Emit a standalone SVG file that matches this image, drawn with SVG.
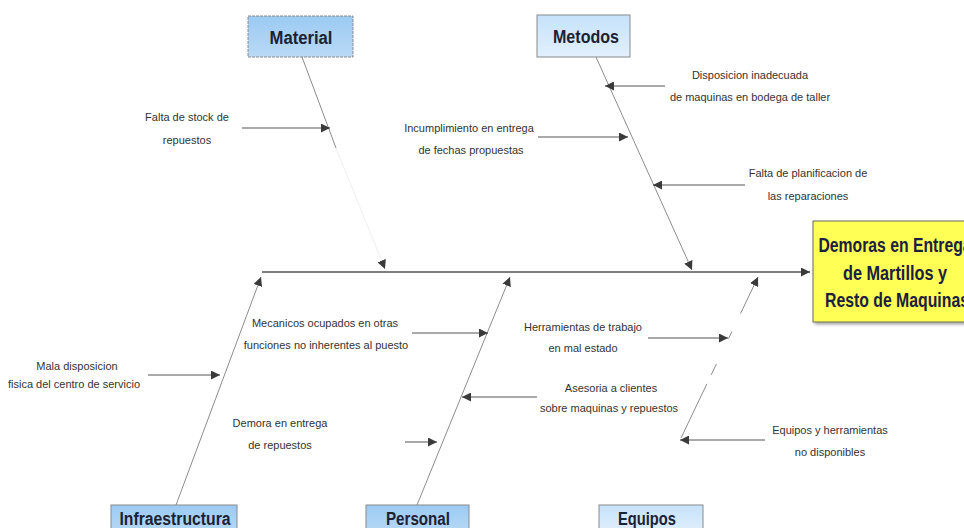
<svg xmlns="http://www.w3.org/2000/svg" width="964" height="528" viewBox="0 0 964 528">
  <defs>
    <marker id="tri" viewBox="0 0 8 8" refX="8" refY="4" markerWidth="9" markerHeight="9" markerUnits="userSpaceOnUse" orient="auto">
      <path d="M0,0 L8,4 L0,8 z" fill="#3a3a3a"/>
    </marker>
    <linearGradient id="blueDeep" x1="0" y1="0" x2="0" y2="1">
      <stop offset="0" stop-color="#9ccaf2"/>
      <stop offset="1" stop-color="#b9daf6"/>
    </linearGradient>
    <linearGradient id="blueLight" x1="0" y1="0" x2="0" y2="1">
      <stop offset="0" stop-color="#c6e2fa"/>
      <stop offset="1" stop-color="#e2f0fc"/>
    </linearGradient>
    <filter id="shadow" x="-10%" y="-10%" width="130%" height="130%">
      <feDropShadow dx="2" dy="2" stdDeviation="1.5" flood-color="#000" flood-opacity="0.35"/>
    </filter>
  </defs>
  <style>
    .cat { stroke: #8a8a8a; stroke-width: 1; }
    .catText { font-family: "Liberation Sans", Arial, sans-serif; font-weight: bold; font-size: 18px; fill: #1b2233; text-anchor: middle; }
    .cause { font-family: "Liberation Sans", Arial, sans-serif; font-size: 11px; fill: #333; text-anchor: middle; }
    .bone { stroke: #8c8c8c; stroke-width: 1; fill: none; }
    .spine { stroke: #555; stroke-width: 1.5; fill: none; }
    .arr { stroke: #555; stroke-width: 1; fill: none; marker-end: url(#tri); }
    .effText { font-family: "Liberation Sans", Arial, sans-serif; font-weight: bold; font-size: 20px; fill: #1b2040; text-anchor: middle; }
  </style>

  <rect width="964" height="528" fill="#ffffff"/>

  <!-- connectors: spine, bones and cause arrows -->
  <g id="connectors">
    <line class="spine" x1="262" y1="272" x2="810" y2="272" marker-end="url(#tri)"/>
    <!-- bones -->
    <line class="bone" x1="302" y1="57" x2="336" y2="148" stroke="#b0b0b0"/>
    <line x1="336" y1="148" x2="385" y2="269" stroke="#eeeeee" stroke-width="1" marker-end="url(#tri)"/>
    <line class="bone" x1="596" y1="57" x2="692" y2="270" marker-end="url(#tri)"/>
    <line class="bone" x1="176" y1="505" x2="261" y2="277" marker-end="url(#tri)"/>
    <line class="bone" x1="417" y1="505" x2="510" y2="277" marker-end="url(#tri)"/>
    <line class="bone" x1="681" y1="438" x2="758" y2="277" stroke="#a8a8a8" stroke-dasharray="60 10 12 28 8 20" marker-end="url(#tri)"/>
    <!-- cause arrows -->
    <line class="arr" x1="242" y1="128" x2="330" y2="128" stroke="#c4c4c4"/>
    <line class="arr" x1="665" y1="86" x2="605" y2="86"/>
    <line class="arr" x1="538" y1="137" x2="628" y2="137"/>
    <line class="arr" x1="745" y1="185" x2="653" y2="185"/>
    <line class="arr" x1="148" y1="375" x2="220" y2="375"/>
    <line class="arr" x1="412" y1="333" x2="488" y2="333"/>
    <line class="arr" x1="405" y1="442" x2="437" y2="442" stroke="#b8b8b8"/>
    <line class="arr" x1="537" y1="397" x2="462" y2="397" stroke="#999"/>
    <line class="arr" x1="648" y1="338" x2="728" y2="338"/>
    <line class="arr" x1="765" y1="440" x2="680" y2="440" stroke="#999"/>
  </g>

  <!-- category boxes -->
  <g id="material">
    <rect x="248" y="16" width="105" height="41" fill="url(#blueDeep)" class="cat" stroke-dasharray="3 1"/>
    <text class="catText" x="301" y="44" textLength="63" lengthAdjust="spacingAndGlyphs">Material</text>
  </g>
  <g id="metodos">
    <rect x="537" y="15" width="93" height="42" fill="url(#blueLight)" class="cat"/>
    <text class="catText" x="586" y="43" textLength="66" lengthAdjust="spacingAndGlyphs">Metodos</text>
  </g>
  <g id="infraestructura">
    <rect x="111" y="505" width="126" height="30" fill="url(#blueDeep)" class="cat"/>
    <text class="catText" x="175" y="525" textLength="111" lengthAdjust="spacingAndGlyphs">Infraestructura</text>
  </g>
  <g id="personal">
    <rect x="366" y="505" width="103" height="30" fill="url(#blueDeep)" class="cat"/>
    <text class="catText" x="418" y="525" textLength="64" lengthAdjust="spacingAndGlyphs">Personal</text>
  </g>
  <g id="equipos">
    <rect x="599" y="505" width="104" height="30" fill="url(#blueLight)" class="cat"/>
    <text class="catText" x="647" y="525" textLength="58" lengthAdjust="spacingAndGlyphs">Equipos</text>
  </g>

  <!-- effect box -->
  <g id="efecto">
    <rect x="813" y="221" width="180" height="101" fill="#ffff55" stroke="#6a6a5a" stroke-width="1" filter="url(#shadow)"/>
    <text class="effText" x="895" y="252" textLength="153" lengthAdjust="spacingAndGlyphs">Demoras en Entrega</text>
    <text class="effText" x="895" y="280" textLength="104" lengthAdjust="spacingAndGlyphs">de Martillos y</text>
    <text class="effText" x="897" y="307" textLength="144" lengthAdjust="spacingAndGlyphs">Resto de Maquinas</text>
  </g>

  <!-- causes -->
  <g id="causa-stock">
    <text class="cause" x="187" y="121">Falta de stock de</text>
    <text class="cause" x="187" y="144">repuestos</text>
  </g>
  <g id="causa-disposicion">
    <text class="cause" x="750" y="79">Disposicion inadecuada</text>
    <text class="cause" x="750" y="101">de maquinas en bodega de taller</text>
  </g>
  <g id="causa-incumplimiento">
    <text class="cause" x="469" y="132">Incumplimiento en entrega</text>
    <text class="cause" x="471" y="154">de fechas propuestas</text>
  </g>
  <g id="causa-planificacion">
    <text class="cause" x="808" y="177">Falta de planificacion de</text>
    <text class="cause" x="808" y="200">las reparaciones</text>
  </g>
  <g id="causa-mala-disposicion">
    <text class="cause" x="77" y="370">Mala disposicion</text>
    <text class="cause" x="74" y="388">fisica del centro de servicio</text>
  </g>
  <g id="causa-mecanicos">
    <text class="cause" x="325" y="327">Mecanicos ocupados en otras</text>
    <text class="cause" x="326" y="349">funciones no inherentes al puesto</text>
  </g>
  <g id="causa-demora">
    <text class="cause" x="280" y="427">Demora en entrega</text>
    <text class="cause" x="280" y="449">de repuestos</text>
  </g>
  <g id="causa-herramientas">
    <text class="cause" x="583" y="331">Herramientas de trabajo</text>
    <text class="cause" x="583" y="352">en mal estado</text>
  </g>
  <g id="causa-asesoria">
    <text class="cause" x="611" y="392">Asesoria a clientes</text>
    <text class="cause" x="609" y="412">sobre maquinas y repuestos</text>
  </g>
  <g id="causa-equipos">
    <text class="cause" x="830" y="434">Equipos y herramientas</text>
    <text class="cause" x="830" y="456">no disponibles</text>
  </g>
</svg>
